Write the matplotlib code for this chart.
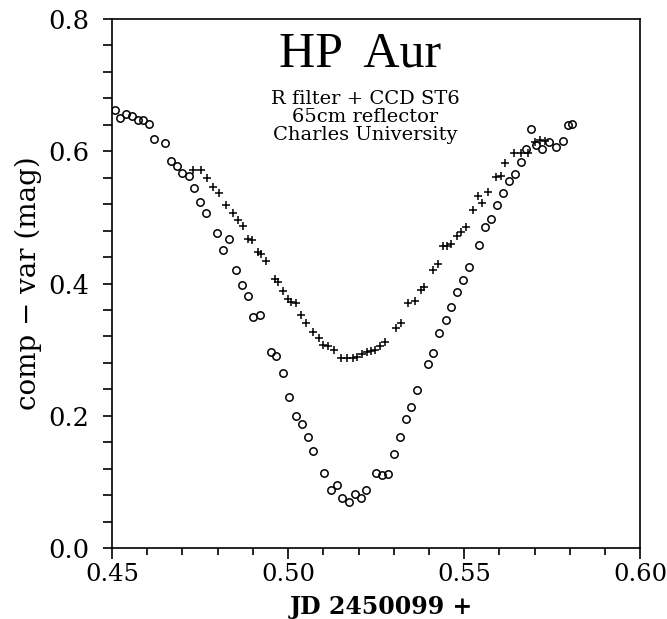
import matplotlib
matplotlib.use("Agg")
import matplotlib.pyplot as plt
from matplotlib.ticker import MultipleLocator

# open circles
circ_x = [0.4507, 0.4523, 0.4539, 0.4556, 0.4573, 0.4589, 0.4606, 0.4620, 0.4650,
          0.4667, 0.4683, 0.4700, 0.4719, 0.4733, 0.4750, 0.4768, 0.4798, 0.4816,
          0.4832, 0.4852, 0.4868, 0.4885, 0.4901, 0.4920, 0.4950, 0.4966, 0.4986,
          0.5002, 0.5021, 0.5038, 0.5055, 0.5070, 0.5101, 0.5123, 0.5139, 0.5153,
          0.5172, 0.5189, 0.5206, 0.5222, 0.5250, 0.5267, 0.5283, 0.5300, 0.5318,
          0.5334, 0.5350, 0.5367, 0.5397, 0.5411, 0.5429, 0.5447, 0.5463, 0.5480,
          0.5497, 0.5513, 0.5541, 0.5558, 0.5575, 0.5593, 0.5610, 0.5626, 0.5644,
          0.5660, 0.5675, 0.5690, 0.5705, 0.5720, 0.5740, 0.5760, 0.5780, 0.5795,
          0.5805]
circ_y = [0.663, 0.650, 0.657, 0.654, 0.647, 0.647, 0.641, 0.618, 0.613,
          0.586, 0.577, 0.567, 0.562, 0.544, 0.524, 0.507, 0.477, 0.450,
          0.468, 0.420, 0.397, 0.381, 0.350, 0.352, 0.297, 0.290, 0.264,
          0.229, 0.200, 0.187, 0.168, 0.147, 0.114, 0.088, 0.095, 0.075,
          0.070, 0.082, 0.075, 0.088, 0.113, 0.111, 0.112, 0.142, 0.168,
          0.195, 0.213, 0.239, 0.278, 0.295, 0.325, 0.345, 0.364, 0.387,
          0.405, 0.425, 0.458, 0.485, 0.498, 0.518, 0.537, 0.555, 0.566,
          0.584, 0.604, 0.634, 0.609, 0.604, 0.614, 0.607, 0.615, 0.639,
          0.641]

# plus signs
plus_x = [0.4731, 0.4752, 0.4771, 0.4787, 0.4805, 0.4824, 0.4844, 0.4858, 0.4872,
          0.4887, 0.4896, 0.4913, 0.4923, 0.4938, 0.4962, 0.4971, 0.4986, 0.5000,
          0.5008, 0.5022, 0.5037, 0.5050, 0.5071, 0.5087, 0.5100, 0.5114, 0.5129,
          0.5151, 0.5166, 0.5183, 0.5195, 0.5210, 0.5224, 0.5235, 0.5246, 0.5262,
          0.5274, 0.5305, 0.5321, 0.5340, 0.5359, 0.5378, 0.5387, 0.5411, 0.5425,
          0.5439, 0.5450, 0.5463, 0.5479, 0.5491, 0.5504, 0.5525, 0.5539, 0.5551,
          0.5567, 0.5591, 0.5605, 0.5616, 0.5640, 0.5661, 0.5680, 0.5700, 0.5715,
          0.5730]
plus_y = [0.571, 0.571, 0.560, 0.546, 0.537, 0.519, 0.507, 0.496, 0.487,
          0.467, 0.466, 0.447, 0.445, 0.434, 0.407, 0.402, 0.389, 0.377,
          0.372, 0.371, 0.352, 0.340, 0.326, 0.317, 0.307, 0.305, 0.300,
          0.288, 0.288, 0.288, 0.289, 0.293, 0.296, 0.298, 0.300, 0.306,
          0.311, 0.332, 0.340, 0.370, 0.374, 0.390, 0.394, 0.421, 0.430,
          0.456, 0.457, 0.460, 0.472, 0.478, 0.486, 0.511, 0.533, 0.521,
          0.539, 0.561, 0.562, 0.582, 0.597, 0.598, 0.597, 0.614, 0.617,
          0.615]

fig = plt.figure(figsize=(6.67, 6.19), dpi=100)
ax = fig.add_axes([0.168, 0.1147, 0.792, 0.8546])

ax.plot(circ_x, circ_y, 'o', mfc='none', mec='black', ms=5.3, mew=1.1)
ax.plot(plus_x, plus_y, '+', color='black', ms=6, mew=1.1)

ax.set_xlim(0.45, 0.60)
ax.set_ylim(0.0, 0.8)
ax.xaxis.set_major_locator(MultipleLocator(0.05))
ax.xaxis.set_minor_locator(MultipleLocator(0.01))
ax.yaxis.set_major_locator(MultipleLocator(0.2))
ax.yaxis.set_minor_locator(MultipleLocator(0.04))
ax.set_xticklabels(['%.2f' % v for v in ax.get_xticks()])
ax.set_yticklabels(['%.1f' % v for v in ax.get_yticks()])
ax.tick_params(which='both', direction='out', width=1.2, top=False, right=False)
ax.tick_params(axis='x', which='major', length=8, pad=3, labelsize=17.5)
ax.tick_params(axis='x', which='minor', length=5)
ax.tick_params(axis='y', which='both', length=6.5, pad=10, labelsize=18.5)
for lab in ax.get_xticklabels() + ax.get_yticklabels():
    lab.set_family('DejaVu Serif')
for s in ax.spines.values():
    s.set_linewidth(1.2)

ax.set_xlabel('JD 2450099 +', family='DejaVu Serif', fontweight='bold',
              fontsize=17)
ax.xaxis.set_label_coords(0.51, -0.088)
ax.set_ylabel('comp \u2212 var (mag)', family='DejaVu Serif', fontsize=20,
              labelpad=4)

ax.text(0.5205, 0.746, 'HP  Aur', family='Liberation Serif', fontsize=36,
        ha='center', va='center')
ax.text(0.5219, 0.652, 'R filter + CCD ST6\n65cm reflector\nCharles University',
        family='DejaVu Serif', fontsize=14, ha='center', va='center',
        linespacing=1.0)

fig.savefig('out.png', dpi=100)
